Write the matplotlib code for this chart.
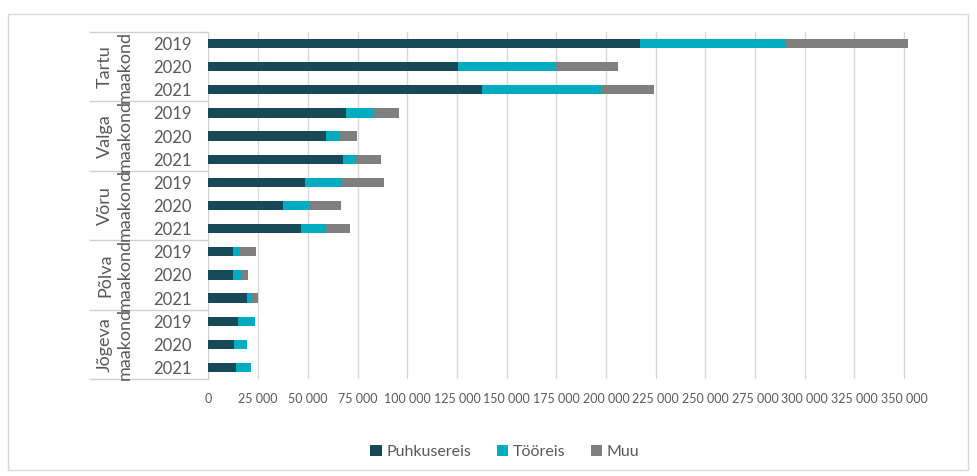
import matplotlib.pyplot as plt
import matplotlib.transforms as mtransforms
from matplotlib.patches import Rectangle
from matplotlib.ticker import FuncFormatter

plt.rcParams['font.family'] = ['Lato', 'DejaVu Sans']

counties = ['Tartu\nmaakond', 'Valga\nmaakond', 'Võru\nmaakond', 'Põlva\nmaakond', 'Jõgeva\nmaakond']
years = ['2019', '2020', '2021']

# values per county, years 2019..2021
puhkusereis = [217000, 125400, 137700,
               69000, 59100, 67500,
               48400, 37600, 46400,
               12200, 12200, 19200,
               15000, 12700, 14000]
tooreis = [73000, 49700, 59600,
           13900, 7000, 6400,
           18800, 12800, 12900,
           3000, 4000, 2800,
           8200, 6700, 7200]
muu = [62000, 30900, 26700,
       12900, 8800, 12700,
       20900, 16100, 12000,
       8500, 3700, 2900,
       0, 0, 0]

c_dark = '#174a56'
c_cyan = '#00acc1'
c_gray = '#7f7f7f'
txt = '#595959'

fig = plt.figure(figsize=(9.77, 4.76), dpi=100)
ax = fig.add_axes([0.2134, 0.2038, 0.7201, 0.729])

pos = list(range(len(puhkusereis)))
left2 = [a + b for a, b in zip(puhkusereis, tooreis)]
h = 0.4
ax.barh(pos, puhkusereis, height=h, color=c_dark, label='Puhkusereis', zorder=3)
ax.barh(pos, tooreis, left=puhkusereis, height=h, color=c_cyan, label='Tööreis', zorder=3)
ax.barh(pos, muu, left=left2, height=h, color=c_gray, label='Muu', zorder=3)

ax.set_ylim(14.5, -0.5)
ax.set_xlim(0, 354000)
ax.set_xticks(range(0, 350001, 25000))
ax.xaxis.set_major_formatter(FuncFormatter(lambda v, p: f'{int(v):,}'.replace(',', ' ')))
ax.tick_params(axis='x', length=0, labelsize=9, labelcolor=txt, pad=10)
ax.set_yticks(pos)
ax.set_yticklabels(years * len(counties))
ax.tick_params(axis='y', length=0, labelsize=12, labelcolor=txt, pad=12)
ax.grid(axis='x', color='#d9d9d9', linewidth=1, zorder=0)
for s in ['top', 'right', 'bottom']:
    ax.spines[s].set_visible(False)
ax.spines['left'].set_color('#d0d0d0')

# group separators and county labels
tr = mtransforms.blended_transform_factory(ax.transAxes, ax.transData)
for k in range(len(counties) + 1):
    y = k * 3 - 0.5
    ax.plot([-0.168, 0], [y, y], transform=tr, color='#d0d0d0', lw=1, clip_on=False)
for i, c in enumerate(counties):
    ax.text(-0.133, i * 3 + 1, c, transform=tr, rotation=90, ha='center', va='center',
            fontsize=13, color=txt, linespacing=1.3, multialignment='center')

fig.legend(loc='center', bbox_to_anchor=(505 / 977, 0.05), ncol=3, frameon=False,
           fontsize=11.5, labelcolor=txt, handlelength=0.7, handleheight=0.7,
           handletextpad=0.3, columnspacing=1.6)

fig.patches.append(Rectangle((8 / 977, 1 - 470 / 476), 960 / 977, 456 / 476,
                             transform=fig.transFigure, fill=False, edgecolor='#d9d9d9', lw=1))

fig.savefig('out.png', dpi=100)
